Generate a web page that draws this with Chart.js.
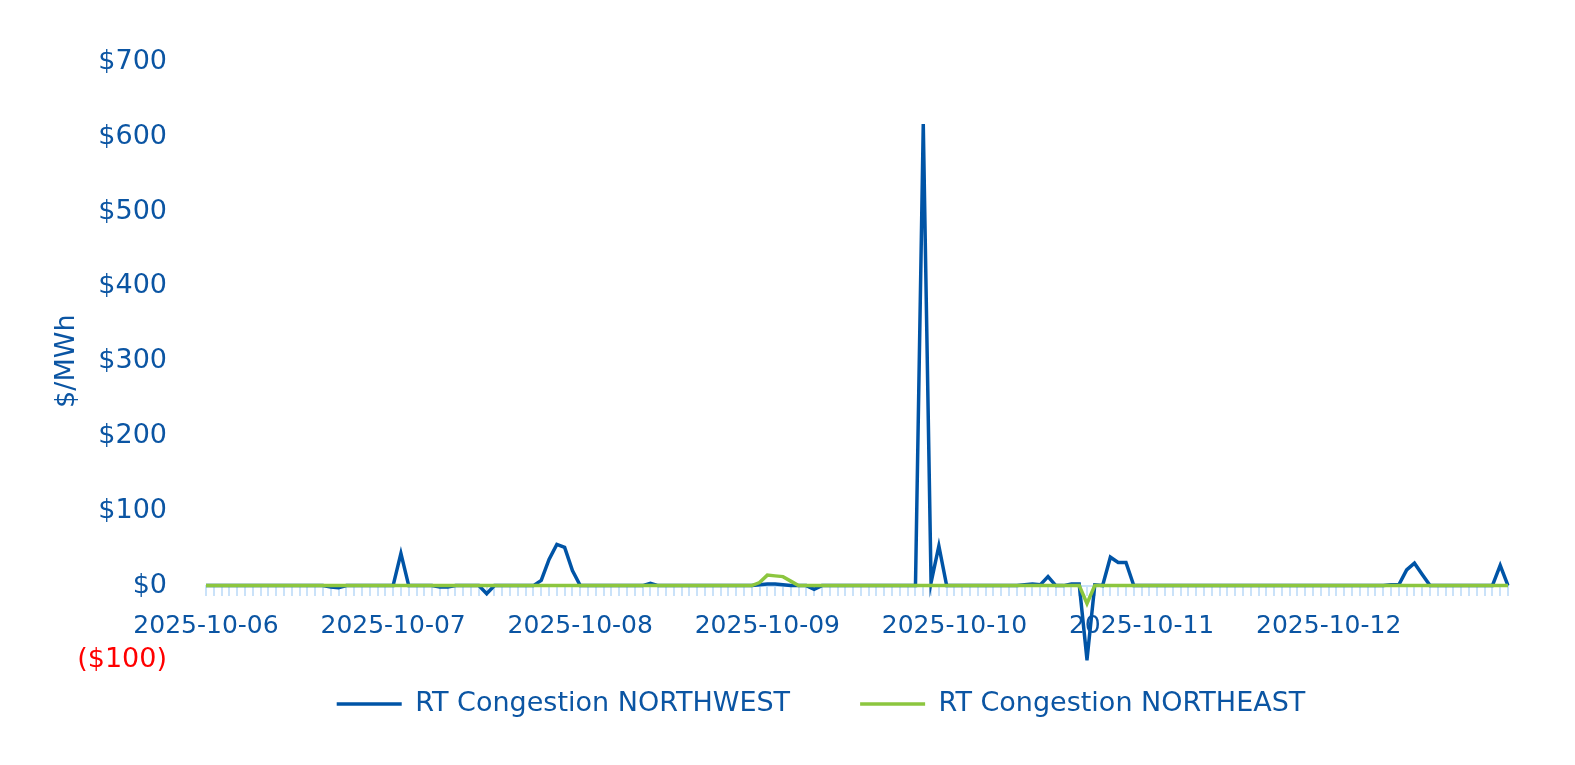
<!DOCTYPE html>
<html>
<head>
<meta charset="utf-8">
<script src="https://cdn.jsdelivr.net/npm/chart.js@4"></script>
<style>
  body { margin: 0; background: #fff; }
</style>
</head>
<body>
<canvas id="chart" width="1575" height="765"></canvas>
<script>
// one label per day, data is hourly
const days = ['2025-10-06', '2025-10-07', '2025-10-08', '2025-10-09', '2025-10-10', '2025-10-11', '2025-10-12'];

const northwest = [
  0, 0, 0, 0, 0, 0, 0, 0, 0, 0, 0, 0, 0, 0, 0, 0, -2, -3, 0, 0, 0, 0, 0, 0,
  0, 43, 0, 0, 0, 0, -2, -2, 0, 0, 0, 0, -11, 0, 0, 0, 0, 0, 0, 7, 35, 55, 51, 20,
  0, 0, 0, 0, 0, 0, 0, 0, 0, 3, 0, 0, 0, 0, 0, 0, 0, 0, 0, 0, 0, 0, 0, 1,
  2, 2, 1, 0, 0, 0, -5, 0, 0, 0, 0, 0, 0, 0, 0, 0, 0, 0, 0, 0, 617, 4, 53, 0,
  0, 0, 0, 0, 0, 0, 0, 0, 0, 1, 2, 1, 12, 0, 0, 2, 2, -99, 1, 0, 38, 31, 31, 0,
  0, 0, 0, 0, 0, 0, 0, 0, 0, 0, 0, 0, 0, 0, 0, 0, 0, 0, 0, 0, 0, 0, 0, 0,
  0, 0, 0, 0, 0, 0, 0, 0, 1, 1, 21, 30, 15, 0, 0, 0, 0, 0, 0, 0, 0, 0, 27, 0
];

const northeast = [
  0, 0, 0, 0, 0, 0, 0, 0, 0, 0, 0, 0, 0, 0, 0, 0, 0, 0, 0, 0, 0, 0, 0, 0,
  0, 0, 0, 0, 0, 0, 0, 0, 0, 0, 0, 0, 0, 0, 0, 0, 0, 0, 0, 0, 0, 0, 0, 0,
  0, 0, 0, 0, 0, 0, 0, 0, 0, 0, 0, 0, 0, 0, 0, 0, 0, 0, 0, 0, 0, 0, 0, 4,
  14, 13, 12, 6, 0, 0, 0, 0, 0, 0, 0, 0, 0, 0, 0, 0, 0, 0, 0, 0, 0, 0, 0, 0,
  0, 0, 0, 0, 0, 0, 0, 0, 0, 0, 0, 0, 0, 0, 0, 0, 0, -24, 0, 0, 0, 0, 0, 0,
  0, 0, 0, 0, 0, 0, 0, 0, 0, 0, 0, 0, 0, 0, 0, 0, 0, 0, 0, 0, 0, 0, 0, 0,
  0, 0, 0, 0, 0, 0, 0, 0, 0, 0, 0, 0, 0, 0, 0, 0, 0, 0, 0, 0, 0, 0, 0, 0
];

const seriesNames = ['RT Congestion NORTHWEST', 'RT Congestion NORTHEAST'];

const hours = [];
days.forEach(d => {
  for (let h = 0; h < 24; h++) hours.push(d + ' ' + String(h).padStart(2, '0') + ':00');
});

const textBlue = '#0b55a3';
const lineBlue = '#0054a6';
const green = '#8cc63f';
const tickBlue = '#cae2f9';
const font = 'DejaVu Sans';

// legend sits lower and a bit to the right of where Chart.js puts it
const legendPlacement = {
  id: 'legendPlacement',
  afterLayout(chart) {
    const lg = chart.legend;
    lg.top = 620.5;
    lg.left += 67;
    lg.right += 67;
  }
};

new Chart(document.getElementById('chart'), {
  type: 'line',
  data: {
    labels: hours,
    datasets: [
      {
        label: seriesNames[0],
        data: northwest,
        borderColor: lineBlue,
        backgroundColor: lineBlue,
        borderWidth: 3.5,
        pointRadius: 0,
        tension: 0,
        order: 1
      },
      {
        label: seriesNames[1],
        data: northeast,
        borderColor: green,
        backgroundColor: green,
        borderWidth: 3.5,
        pointRadius: 0,
        tension: 0,
        order: 0
      }
    ]
  },
  options: {
    responsive: false,
    animation: false,
    layout: { padding: { left: 0, right: 67, top: 62, bottom: 4.6 } },
    plugins: {
      tooltip: { enabled: false },
      legend: {
        position: 'bottom',
        reverse: true,
        maxHeight: 100,
        labels: {
          color: textBlue,
          font: { family: font, size: 27 },
          usePointStyle: true,
          pointStyle: 'line',
          pointStyleWidth: 65,
          padding: 70
        }
      }
    },
    scales: {
      x: {
        position: { y: 0 },
        grid: {
          drawOnChartArea: false,
          drawTicks: true,
          tickLength: 9,
          color: tickBlue,
          lineWidth: 2
        },
        border: { display: true, color: tickBlue, width: 2 },
        ticks: {
          autoSkip: false,
          maxRotation: 0,
          minRotation: 0,
          padding: 17,
          color: textBlue,
          font: { family: font, size: 25 },
          callback: (v, i) => (i % 24 === 0 ? days[i / 24] : '')
        }
      },
      y: {
        min: -100,
        max: 700,
        afterFit: s => { s.width = 206; },
        grid: { display: false, drawTicks: false },
        border: { display: false },
        title: {
          display: true,
          text: '$/MWh',
          color: textBlue,
          font: { family: font, size: 27 },
          padding: { top: 51, bottom: 0 }
        },
        ticks: {
          stepSize: 100,
          padding: 39,
          font: { family: font, size: 27 },
          color: c => (c.tick.value < 0 ? '#ff0000' : textBlue),
          callback: v => (v < 0 ? '($' + Math.abs(v) + ')' : '$' + v)
        }
      }
    }
  },
  plugins: [legendPlacement]
});
</script>
</body>
</html>
